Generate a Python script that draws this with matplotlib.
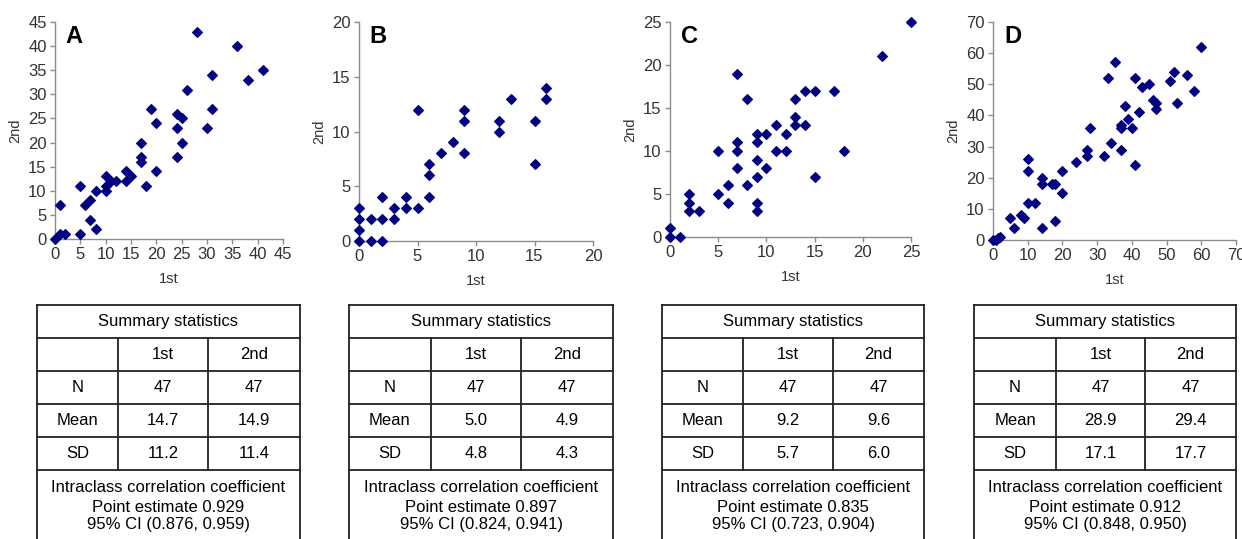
import matplotlib
matplotlib.use("Agg")
import matplotlib.pyplot as plt

plt.rcParams['font.family'] = ['Liberation Sans', 'DejaVu Sans']

W, H = 1242, 539

# scatter data: (1st, 2nd) per panel
a_x = [0, 1, 1, 2, 5, 5, 6, 7, 7, 8, 8, 10, 10, 10, 11, 12, 14, 14, 15, 17, 17, 17, 18, 19,
       20, 20, 24, 24, 24, 25, 25, 26, 28, 30, 31, 31, 36, 38, 41]
a_y = [0, 7, 1, 1, 11, 1, 7, 8, 4, 10, 2, 13, 11, 10, 12, 12, 14, 12, 13, 20, 17, 16, 11, 27,
       24, 14, 26, 23, 17, 25, 20, 31, 43, 23, 34, 27, 40, 33, 35]

b_x = [0, 0, 0, 0, 1, 1, 2, 2, 2, 3, 3, 4, 4, 5, 5, 6, 6, 6, 7, 8, 9, 9, 9, 12, 12, 13, 15, 15, 16, 16]
b_y = [3, 2, 1, 0, 2, 0, 4, 2, 0, 3, 2, 4, 3, 3, 12, 7, 6, 4, 8, 9, 12, 11, 8, 11, 10, 13, 11, 7, 14, 13]

c_x = [0, 0, 1, 2, 2, 2, 3, 5, 5, 6, 6, 7, 7, 7, 7, 8, 8, 9, 9, 9, 9, 9, 9, 10, 10, 11, 11,
       12, 12, 13, 13, 13, 14, 14, 15, 15, 17, 18, 22, 25]
c_y = [1, 0, 0, 5, 4, 3, 3, 10, 5, 6, 4, 19, 11, 10, 8, 16, 6, 12, 11, 9, 7, 4, 3, 12, 8, 13, 10,
       12, 10, 16, 14, 13, 17, 13, 17, 7, 17, 10, 21, 25]

d_x = [0, 1, 1.5, 2, 5, 6, 8, 9, 10, 10, 10, 12, 14, 14, 14, 17, 18, 18, 20, 20, 24, 27, 27, 28,
       32, 33, 34, 35, 37, 37, 37, 38, 39, 40, 41, 41, 42, 43, 45, 46, 47, 47, 51, 52, 53, 56, 58, 60]
d_y = [0, 0, 0.5, 1, 7, 4, 8, 7, 26, 22, 12, 12, 20, 18, 4, 18, 18, 6, 22, 15, 25, 29, 27, 36,
       27, 52, 31, 57, 37, 36, 29, 43, 39, 36, 52, 24, 41, 49, 50, 45, 44, 42, 51, 54, 44, 53, 48, 62]

panel_labels = ["A", "B", "C", "D"]
xmax = [45, 20, 25, 70]
ymax = [45, 20, 25, 70]
xstep = [5, 5, 5, 10]
ystep = [5, 5, 5, 10]

# summary tables
col_heads = ["", "1st", "2nd"]
row_names = ["N", "Mean", "SD"]
n_vals = [("47", "47"), ("47", "47"), ("47", "47"), ("47", "47")]
mean_vals = [("14.7", "14.9"), ("5.0", "4.9"), ("9.2", "9.6"), ("28.9", "29.4")]
sd_vals = [("11.2", "11.4"), ("4.8", "4.3"), ("5.7", "6.0"), ("17.1", "17.7")]
icc_point = ["0.929", "0.897", "0.835", "0.912"]
icc_ci = ["(0.876, 0.959)", "(0.824, 0.941)", "(0.723, 0.904)", "(0.848, 0.950)"]

# pixel boxes of the plot areas: left, right, top, bottom
ax_boxes = [(55, 283, 22, 239), (359, 593, 22, 241), (670, 911, 22, 237), (993, 1236, 22, 240)]
# table columns (x edges)
tab_cols = [(37, 118, 208, 300), (349, 431, 521, 613), (662, 743, 833, 924), (974, 1056, 1145, 1236)]
tab_rows = [305, 338, 371, 404, 437, 470]

fig = plt.figure(figsize=(W / 100, H / 100), dpi=100)

data = [(a_x, a_y), (b_x, b_y), (c_x, c_y), (d_x, d_y)]
grey = "#8c8c8c"
for i, (xs, ys) in enumerate(data):
    l, r, t, b = ax_boxes[i]
    ax = fig.add_axes([l / W, 1 - b / H, (r - l) / W, (b - t) / H])
    ax.scatter(xs, ys, marker="D", s=24, color="#000080", zorder=3, clip_on=False)
    ax.set_xlim(0, xmax[i])
    ax.set_ylim(0, ymax[i])
    ax.set_xticks(range(0, xmax[i] + 1, xstep[i]))
    ax.set_yticks(range(0, ymax[i] + 1, ystep[i]))
    for s in ["top", "right"]:
        ax.spines[s].set_visible(False)
    for s in ["left", "bottom"]:
        ax.spines[s].set_color(grey)
        ax.spines[s].set_linewidth(1.0)
    ax.tick_params(direction="out", length=3.5, width=1, color=grey, labelsize=12,
                   labelcolor="#333333", pad=2.5)
    ax.set_xlabel("1st", fontsize=10.5, color="#333333", labelpad=7)
    ax.set_ylabel("2nd", fontsize=10.5, color="#333333", labelpad=4)
    ax.text(0.045, 0.985, panel_labels[i], transform=ax.transAxes, fontsize=17,
            fontweight="bold", va="top", ha="left")

# overlay for tables in pixel coordinates
ov = fig.add_axes([0, 0, 1, 1])
ov.set_xlim(0, W)
ov.set_ylim(H, 0)
ov.axis("off")
lc = "#222222"
for i in range(4):
    x0, x1, x2, x3 = tab_cols[i]
    for y in tab_rows:
        ov.plot([x0, x3], [y, y], color=lc, lw=1.3)
    ov.plot([x0, x0], [tab_rows[0], H], color=lc, lw=1.3)
    ov.plot([x3, x3], [tab_rows[0], H], color=lc, lw=1.3)
    for xc in (x1, x2):
        ov.plot([xc, xc], [tab_rows[1], tab_rows[5]], color=lc, lw=1.3)
    fs = 12
    ov.text((x0 + x3) / 2, (tab_rows[0] + tab_rows[1]) / 2, "Summary statistics",
            ha="center", va="center", fontsize=fs)
    centers = [(x0 + x1) / 2, (x1 + x2) / 2, (x2 + x3) / 2]
    rows = [col_heads,
            [row_names[0], *n_vals[i]],
            [row_names[1], *mean_vals[i]],
            [row_names[2], *sd_vals[i]]]
    for r, row in enumerate(rows):
        yc = (tab_rows[r + 1] + tab_rows[r + 2]) / 2
        for c, txt in enumerate(row):
            ov.text(centers[c], yc, txt, ha="center", va="center", fontsize=fs)
    xm = (x0 + x3) / 2
    ov.text(xm, 488, "Intraclass correlation coefficient", ha="center", va="center", fontsize=fs)
    ov.text(xm, 507, "Point estimate " + icc_point[i], ha="center", va="center", fontsize=fs)
    ov.text(xm, 525, "95% CI " + icc_ci[i], ha="center", va="center", fontsize=fs)

fig.savefig("out.png", dpi=100)
